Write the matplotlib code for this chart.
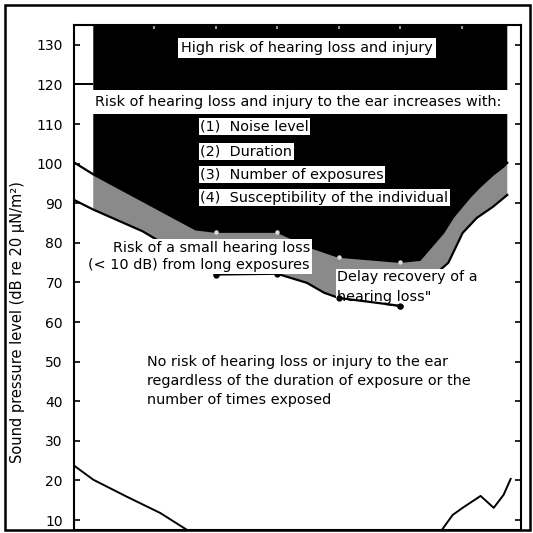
import numpy as np
import matplotlib
matplotlib.use("Agg")
import matplotlib.pyplot as plt
from matplotlib.patches import Rectangle
from matplotlib.ticker import NullLocator, NullFormatter

# Upper boundary: above it, hearing loss and injury risk (black zone), dB SPL vs Hz
upper_freq = [50, 63, 200, 250, 500, 750, 1000, 2000, 2500, 3250, 3650, 4400, 4900, 5700, 6400, 6700]
upper_level = [100.5, 97.3, 83.4, 82.8, 82.8, 78.7, 76.5, 75.2, 75.7, 82.5, 86.6, 91.6, 94.1, 97.2, 99.2, 100.2]

# Lower boundary: below it, no risk (grey zone lies between the two curves)
lower_freq = [50, 63, 110, 250, 500, 700, 850, 1000, 2000, 3450, 4050, 4750, 5700, 6700]
lower_level = [91.0, 88.4, 82.9, 72.0, 72.2, 69.9, 67.4, 66.1, 64.1, 75.0, 82.5, 86.3, 89.1, 92.1]

# Octave-band points marked on both boundaries
marker_freq = [250, 500, 1000, 2000]

# Threshold of hearing (low and high frequency ends)
thr_low_freq = [50, 63, 92, 134, 188, 210]
thr_low_level = [24.0, 20.2, 15.9, 11.8, 7.0, 6.0]
thr_high_freq = [3100, 3620, 4050, 4960, 5750, 6430, 6960]
thr_high_level = [6.5, 11.3, 13.1, 16.1, 13.1, 16.4, 20.4]

high_risk_level = 120
y_ticks = [10, 20, 30, 40, 50, 60, 70, 80, 90, 100, 110, 120, 130]
x_ticks = [125, 250, 500, 1000, 2000, 4000]

W = 533.0
fig = plt.figure(figsize=(5.33, 5.33), dpi=100)
fig.patch.set_facecolor("white")
ax = fig.add_axes([74 / W, 3 / W, 447 / W, 505 / W])
ax.set_xscale("log")
ax.set_xlim(50.7, 7820)
ax.set_ylim(7.5, 135)
y_top = 135

# zones are drawn from the first fully shaded band onwards
fill_up_f = upper_freq[1:]
fill_up_v = upper_level[1:]
fill_lo_f = lower_freq[1:]
fill_lo_v = lower_level[1:]

grey_x = np.r_[fill_up_f, fill_lo_f[::-1]]
grey_y = np.r_[fill_up_v, fill_lo_v[::-1]]
ax.fill(grey_x, grey_y, color="#8a8a8a", lw=0, zorder=1)

black_x = np.r_[fill_up_f, fill_up_f[-1], fill_up_f[0]]
black_y = np.r_[fill_up_v, y_top, y_top]
ax.fill(black_x, black_y, color="black", lw=0, zorder=1.1)

# white banner across the black zone
ax.axhspan(112.6, 118.6, color="white", lw=0, zorder=1.2)

# boundary curves
lo_marks = [lower_freq.index(f) for f in marker_freq]
up_marks = [upper_freq.index(f) for f in marker_freq]
ax.plot(lower_freq, lower_level, color="black", lw=1.6, zorder=2,
        marker="o", markersize=3.5, markevery=lo_marks)
# the 1 kHz - 2 kHz stretch runs underneath the "hearing loss" label
i1, i2 = lower_freq.index(1000), lower_freq.index(2000)
ax.plot(lower_freq[i1:i2 + 1], lower_level[i1:i2 + 1], color="black", lw=1.6, zorder=3.5,
        marker="o", markersize=3.5)
ax.plot(upper_freq, upper_level, color="black", lw=1.6, zorder=2)
ax.plot([upper_freq[i] for i in up_marks], [upper_level[i] for i in up_marks],
        ls="none", marker="o", markersize=2.2, color="#dddddd", zorder=2.1)
ax.hlines(high_risk_level, ax.get_xlim()[0], fill_up_f[0], color="black", lw=1.4, zorder=2)

ax.plot(thr_low_freq, thr_low_level, color="black", lw=1.4, zorder=2)
ax.plot(thr_high_freq, thr_high_level, color="black", lw=1.4, zorder=2)

# axes styling
for s in ax.spines.values():
    s.set_linewidth(1.5)
ax.set_yticks(y_ticks)
ax.tick_params(axis="y", direction="in", length=4, width=1.2, left=True, right=True,
               labelright=False, labelsize=10, pad=8)
ax.set_xticks(x_ticks)
ax.xaxis.set_minor_locator(NullLocator())
ax.xaxis.set_major_formatter(NullFormatter())
ax.tick_params(axis="x", direction="in", length=3, width=1.2, top=True, bottom=False,
               color="#bbbbbb")

fs = 10.4
box = dict(facecolor="white", edgecolor="none", pad=1.0)
ax.text(701, 129.2, "High risk of hearing loss and injury", ha="center", va="center",
        fontsize=fs, bbox=dict(facecolor="white", edgecolor="none", pad=2.0), zorder=3)
ax.text(633, 115.5, "Risk of hearing loss and injury to the ear increases with:",
        ha="center", va="center", fontsize=fs, zorder=3)
items = ["(1)  Noise level", "(2)  Duration", "(3)  Number of exposures",
         "(4)  Susceptibility of the individual"]
for txt, lev in zip(items, [109.3, 103.0, 97.2, 91.4]):
    ax.text(210, lev, txt, ha="left", va="center", fontsize=fs, bbox=box, zorder=3)

ax.text(725, 76.5, "Risk of a small hearing loss\n(< 10 dB) from long exposures",
        ha="right", va="center", multialignment="right", fontsize=fs, linespacing=1.25,
        bbox=dict(facecolor="white", edgecolor="none", pad=1.5), zorder=3)
ax.text(983, 68.8, "Delay recovery of a\nhearing loss\"", ha="left", va="center",
        fontsize=fs, linespacing=1.5,
        bbox=dict(facecolor="white", edgecolor="none", pad=1.0), zorder=3)
ax.text(115.5, 45.1, "No risk of hearing loss or injury to the ear\n"
        "regardless of the duration of exposure or the\nnumber of times exposed",
        ha="left", va="center", fontsize=fs, linespacing=1.45, zorder=3)

fig.text(18 / W, 1 - 322 / W, "Sound pressure level (dB re 20 μN/m²)", rotation=90,
         ha="center", va="center", fontsize=10.5)

# outer frame
fig.patches.append(Rectangle((5 / W, 3 / W), 525 / W, 525 / W, transform=fig.transFigure,
                             fill=False, lw=1.8, ec="black"))

fig.savefig("out.png", dpi=100)
